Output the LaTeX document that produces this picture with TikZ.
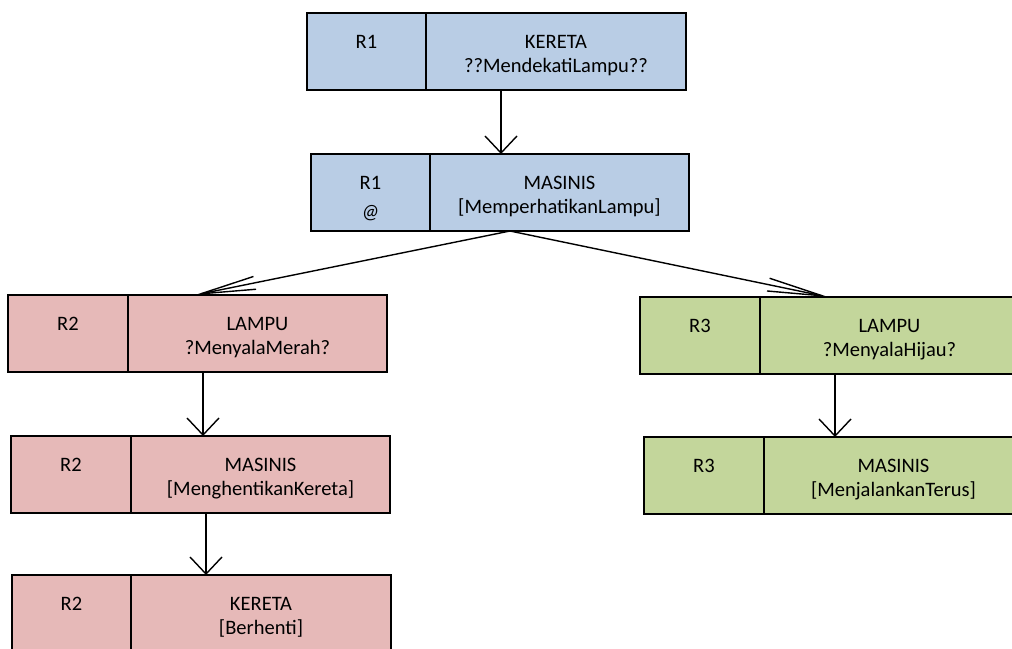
\documentclass[tikz,border=0pt]{standalone}
\usepackage{fontspec}
\setmainfont{Carlito}
\usetikzlibrary{arrows.meta,calc}
\definecolor{cellblue}{HTML}{B9CDE5}
\definecolor{cellred}{HTML}{E6B9B8}
\definecolor{cellgreen}{HTML}{C3D69B}
\tikzset{
  cell/.style={draw=black, line width=1.6pt, anchor=north west,
    minimum height=77pt, inner sep=0pt, outer sep=0pt},
  txt/.style={font=\fontsize{20.5}{24}\selectfont, anchor=base, inner sep=0pt},
  flow/.style={line width=1.4pt,
    -{Straight Barb[length=17pt,width=32pt,line width=1.4pt]}},
  branch/.style={line width=1.4pt,
    -{Straight Barb[length=55pt,width=13pt,line width=1.4pt]}},
}
\begin{document}
\begin{tikzpicture}[x=1pt,y=-1pt]
\useasboundingbox (0,0) rectangle (1012,648);
\clip (0,0) rectangle (1012,648);

% R1: train approaching the lamp
\node[cell, fill=cellblue, minimum width=119pt] (b1l) at (307,13) {};
\node[cell, fill=cellblue, minimum width=260pt] (b1r) at (426,13) {};
\node[txt] (t1a) at ($(b1l.north)+(0,35)$) {R1};
\node[txt] (t1b) at ($(b1r.north)+(0,35)$) {KERETA};
\node[txt] (t1c) at ($(b1r.north)+(0,59)$) {??MendekatiLampu??};

% R1: driver watches the lamp
\node[cell, fill=cellblue, minimum width=119pt] (b2l) at (311,154) {};
\node[cell, fill=cellblue, minimum width=259pt] (b2r) at (430,154) {};
\node[txt] (t2a) at ($(b2l.north)+(0,35)$) {R1};
\node[txt] (t2d) at ($(b2l.north)+(0,64)$) {\itshape @};
\node[txt] (t2b) at ($(b2r.north)+(0,35)$) {MASINIS};
\node[txt] (t2c) at ($(b2r.north)+(0,59)$) {[MemperhatikanLampu]};

% R2: red light branch
\node[cell, fill=cellred, minimum width=120pt] (b3l) at (8,295) {};
\node[cell, fill=cellred, minimum width=259pt] (b3r) at (128,295) {};
\node[txt] (t3a) at ($(b3l.north)+(0,35)$) {R2};
\node[txt] (t3b) at ($(b3r.north)+(0,35)$) {LAMPU};
\node[txt] (t3c) at ($(b3r.north)+(0,59)$) {?MenyalaMerah?};

\node[cell, fill=cellred, minimum width=120pt] (b5l) at (11,436) {};
\node[cell, fill=cellred, minimum width=259pt] (b5r) at (131,436) {};
\node[txt] (t5a) at ($(b5l.north)+(0,35)$) {R2};
\node[txt] (t5b) at ($(b5r.north)+(0,35)$) {MASINIS};
\node[txt] (t5c) at ($(b5r.north)+(0,59)$) {[MenghentikanKereta]};

\node[cell, fill=cellred, minimum width=119pt] (b7l) at (12,575) {};
\node[cell, fill=cellred, minimum width=260pt] (b7r) at (131,575) {};
\node[txt] (t7a) at ($(b7l.north)+(0,35)$) {R2};
\node[txt] (t7b) at ($(b7r.north)+(0,35)$) {KERETA};
\node[txt] (t7c) at ($(b7r.north)+(0,59)$) {[Berhenti]};

% R3: green light branch
\node[cell, fill=cellgreen, minimum width=120pt] (b4l) at (640,297) {};
\node[cell, fill=cellgreen, minimum width=259pt] (b4r) at (760,297) {};
\node[txt] (t4a) at ($(b4l.north)+(0,35)$) {R3};
\node[txt] (t4b) at ($(b4r.north)+(0,35)$) {LAMPU};
\node[txt] (t4c) at ($(b4r.north)+(0,59)$) {?MenyalaHijau?};

\node[cell, fill=cellgreen, minimum width=120pt] (b6l) at (644,437) {};
\node[cell, fill=cellgreen, minimum width=259pt] (b6r) at (764,437) {};
\node[txt] (t6a) at ($(b6l.north)+(0,35)$) {R3};
\node[txt] (t6b) at ($(b6r.north)+(0,35)$) {MASINIS};
\node[txt] (t6c) at ($(b6r.north)+(0,59)$) {[MenjalankanTerus]};

% connectors
\draw[flow] ([xshift=-55pt]b1r.south) -- ([xshift=-58.5pt]b2r.north);
\draw[branch] ([xshift=-49.5pt]b2r.south) -- ([xshift=-62.5pt]b3r.north);
\draw[branch] ([xshift=-49.5pt]b2r.south) -- ([xshift=-61.5pt]b4r.north);
\draw[flow] ([xshift=-54.5pt]b3r.south) -- ([xshift=-57.5pt]b5r.north);
\draw[flow] ([xshift=-54.5pt]b5r.south) -- ([xshift=-55pt]b7r.north);
\draw[flow] ([xshift=-54.5pt]b4r.south) -- ([xshift=-58.5pt]b6r.north);
\end{tikzpicture}
\end{document}
